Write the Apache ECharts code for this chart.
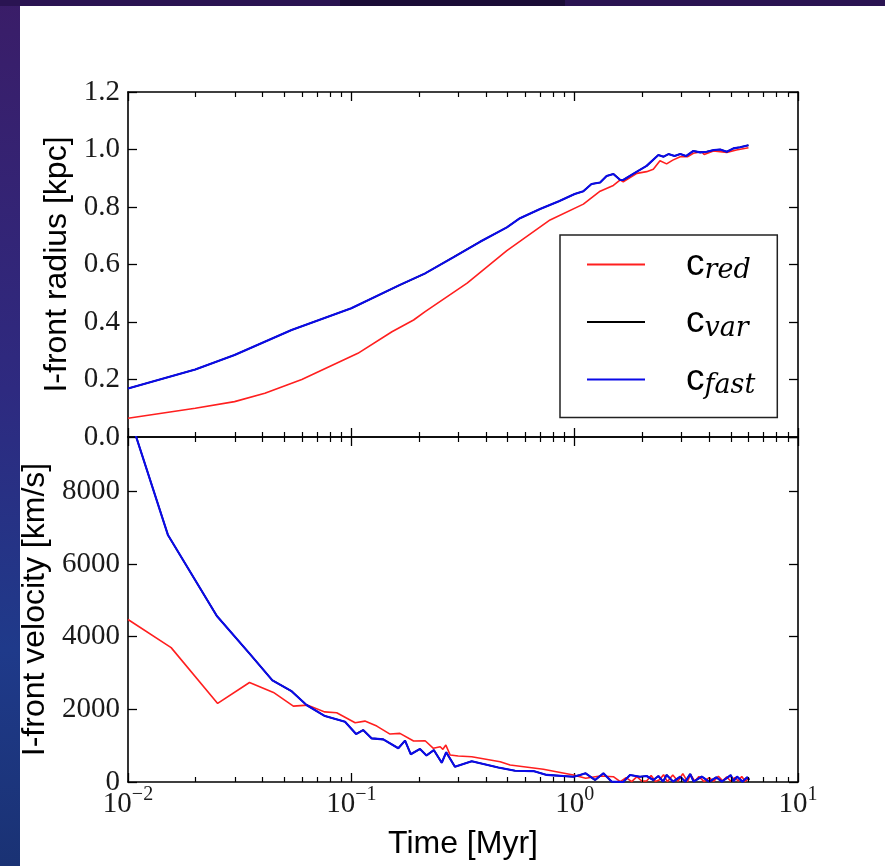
<!DOCTYPE html>
<html><head><meta charset="utf-8">
<script src="https://cdn.jsdelivr.net/npm/echarts@6/dist/echarts.min.js"></script>
<style>
html,body{margin:0;padding:0;width:885px;height:866px;overflow:hidden;}
body{background:linear-gradient(180deg,#3a1d68 0%,#2e2a80 45%,#1f3a8a 75%,#1a3274 100%);}
#topbar{position:absolute;left:0;top:0;width:885px;height:6px;background:#2a1452;}
#tab{position:absolute;left:340px;top:0;width:225px;height:6px;background:#1a0c36;}
#panel{position:absolute;left:20px;top:6px;width:865px;height:860px;background:#fff;}
#chart{position:absolute;left:0;top:0;width:885px;height:866px;}
</style></head>
<body><div id="topbar"></div><div id="tab"></div><div id="panel"></div><div id="chart"></div>
<script>
// ---- data ----
const seriesNames = ['c_red', 'c_var', 'c_fast'];

// I-front radius [kpc] vs time [Myr]
const redRadT = [0.01,0.02,0.03,0.041,0.06,0.107,0.152,0.19,0.214,0.33,0.497,0.776,1.094,1.30,1.49,1.60,1.65,1.90,2.10,2.25,2.41,2.58,2.75,2.97,3.20,3.40,3.70,3.80,4.18,4.80,5.30,6.0];
const redRadV = [0.065,0.10,0.123,0.152,0.2,0.291,0.366,0.407,0.436,0.535,0.648,0.755,0.81,0.855,0.875,0.894,0.888,0.917,0.923,0.931,0.961,0.95,0.963,0.975,0.975,0.987,0.992,0.983,0.995,0.99,0.998,1.006];

const fastRadT = [0.01,0.02,0.03,0.054,0.1,0.165,0.214,0.286,0.377,0.497,0.569,0.70,0.85,1.0,1.094,1.19,1.30,1.39,1.49,1.60,1.65,1.90,2.10,2.37,2.50,2.63,2.80,2.97,3.15,3.40,3.65,3.90,4.20,4.48,4.80,5.14,5.50,6.0];
const fastRadV = [0.169,0.235,0.285,0.372,0.448,0.529,0.569,0.625,0.679,0.729,0.761,0.793,0.82,0.845,0.855,0.88,0.885,0.908,0.915,0.894,0.894,0.923,0.943,0.981,0.975,0.984,0.977,0.984,0.977,0.995,0.99,0.992,0.998,1.0,0.992,1.004,1.008,1.015];

// c_var lies underneath c_fast in the picture (hidden by the blue line)
const varRadT = [0.01,0.02,0.03,0.054,0.1,0.165,0.214,0.286,0.377,0.497,0.569,0.70,0.85,1.0,1.094,1.19,1.30,1.39,1.49,1.60,1.65,1.90,2.10,2.37,2.50,2.63,2.80,2.97,3.15,3.40,3.65,3.90,4.20,4.48,4.80,5.14,5.50,6.0];
const varRadV = [0.169,0.235,0.285,0.372,0.448,0.529,0.569,0.625,0.679,0.729,0.761,0.793,0.82,0.845,0.855,0.88,0.885,0.908,0.915,0.894,0.894,0.923,0.943,0.981,0.975,0.984,0.977,0.984,0.977,0.995,0.99,0.992,0.998,1.0,0.992,1.004,1.008,1.015];

// I-front velocity [km/s] vs time [Myr]
const redVelT = [0.01,0.0156,0.0252,0.035,0.0448,0.055,0.0638,0.076,0.086,0.104,0.115,0.130,0.149,0.165,0.19,0.214,0.233,0.25,0.257,0.265,0.277,0.301,0.346,0.464,0.514,0.724,0.987,1.12,1.30,1.49,1.60,1.70,1.80,1.90,2.0,2.1,2.2,2.3,2.4,2.5,2.6,2.75,2.9,3.05,3.2,3.3,3.45,3.6,3.8,4.0,4.2,4.4,4.6,4.8,5.0,5.2,5.4,5.6,5.8,6.0];
const redVelV = [4474,3700,2164,2741,2466,2090,2117,1930,1906,1631,1677,1540,1320,1339,1127,1136,927,971,900,1017,742,715,696,558,468,349,193,102,165,146,8,120,10,150,20,30,180,15,60,200,10,190,20,230,10,210,20,150,10,120,20,160,30,140,20,120,30,150,20,90];

const fastVelT = [0.01,0.0151,0.025,0.0352,0.0443,0.054,0.063,0.0762,0.0937,0.105,0.113,0.1234,0.139,0.1623,0.174,0.1845,0.203,0.217,0.234,0.254,0.266,0.291,0.346,0.455,0.541,0.653,0.75,0.987,1.057,1.12,1.234,1.345,1.465,1.65,1.77,1.96,2.10,2.25,2.37,2.49,2.58,2.76,2.97,3.13,3.29,3.41,3.71,4.0,4.31,4.56,5.0,5.14,5.33,5.64,5.92,6.05];
const fastVelV = [10200,6800,4570,3520,2800,2500,2120,1815,1660,1320,1430,1200,1175,930,1140,765,910,730,880,530,820,420,570,400,310,300,195,145,195,240,55,240,10,0,195,145,165,55,165,10,195,10,145,10,220,10,150,10,130,10,190,20,150,10,130,60];

const varVelT = fastVelT.slice();
const varVelV = fastVelV.slice();

// axis ticks
const minorTicks = [0.02,0.03,0.04,0.05,0.06,0.07,0.08,0.09,0.2,0.3,0.4,0.5,0.6,0.7,0.8,0.9,2,3,4,5,6,7,8,9];
const radiusTicks = ['0.0','0.2','0.4','0.6','0.8','1.0','1.2'];
const velocityTicks = ['0','2000','4000','6000','8000'];

// ---- chart ----
const pairs = (t, v) => t.map((x, i) => [x, v[i]]);
const colors = { c_red: '#ff1f1f', c_var: '#000000', c_fast: '#0a0ae8' };
const widths = { c_red: 1.6, c_var: 1.6, c_fast: 2.1 };

const frame = { show: true, onZero: false, lineStyle: { color: '#000', width: 1.6 } };
const tick = { show: true, inside: true, length: 9, lineStyle: { color: '#000', width: 1.3 } };
const serif = 'Liberation Serif';

function xAx(grid, pos, labels) {
  return {
    type: 'log', logBase: 10, gridIndex: grid, position: pos, min: 0.01, max: 10,
    axisLine: frame, axisTick: tick, splitLine: { show: false },
    axisLabel: labels ? {
      show: true, margin: 3,
      formatter: v => {
        const e = Math.round(Math.log10(v));
        return '{b|10}{s|' + (e < 0 ? '\u2212' + (-e) : e) + '}';
      },
      rich: {
        b: { fontFamily: serif, fontSize: 29, lineHeight: 34, color: '#1a1a1a', verticalAlign: 'bottom' },
        s: { fontFamily: serif, fontSize: 20, lineHeight: 16, color: '#1a1a1a', verticalAlign: 'top' }
      }
    } : { show: false },
    name: labels ? 'Time [Myr]' : '', nameLocation: 'middle', nameGap: 46,
    nameTextStyle: { fontFamily: 'Liberation Sans', fontSize: 32, color: '#000' }
  };
}
function yAx(grid, pos, cfg) {
  const o = {
    type: 'value', gridIndex: grid, position: pos, min: cfg.min, max: cfg.max, interval: cfg.interval,
    axisLine: frame, axisTick: tick, splitLine: { show: false },
    axisLabel: cfg.labels ? {
      show: true, margin: 8, showMaxLabel: cfg.showMax,
      fontFamily: serif, fontSize: 29, color: '#1a1a1a',
      formatter: cfg.formatter
    } : { show: false }
  };
  if (cfg.name) {
    o.name = cfg.name; o.nameLocation = 'middle'; o.nameGap = cfg.nameGap;
    o.nameTextStyle = { fontFamily: 'Liberation Sans', fontSize: 32, color: '#000' };
  }
  return o;
}

const radCfg = { min: 0, max: 1.2, interval: 0.2, labels: true, showMax: true,
  formatter: v => radiusTicks[Math.round(v / 0.2)] || '', name: 'I-front radius [kpc]', nameGap: 55 };
const velCfg = { min: 0, max: 9500, interval: 2000, labels: true, showMax: false,
  formatter: v => (v % 2000 === 0 && velocityTicks[v / 2000] !== undefined) ? velocityTicks[v / 2000] : '',
  name: 'I-front velocity [km/s]', nameGap: 76 };

function lineSeries(name, grid, data) {
  return {
    type: 'line', name, xAxisIndex: grid * 2, yAxisIndex: grid * 2, data,
    symbol: 'none', showSymbol: false, clip: true, animation: false, z: 3,
    lineStyle: { color: colors[name], width: widths[name] }, itemStyle: { color: colors[name] }
  };
}
function minorSeries(grid) {
  return {
    type: 'custom', xAxisIndex: grid * 2, yAxisIndex: grid * 2, silent: true, animation: false,
    data: minorTicks.map(v => [v, 0]), z: 4,
    renderItem: (params, api) => {
      const x = Math.round(api.coord([api.value(0), 0])[0]) + 0.5;
      const cs = params.coordSys;
      const st = { stroke: '#000', lineWidth: 1.2 };
      return { type: 'group', children: [
        { type: 'line', shape: { x1: x, y1: cs.y + cs.height, x2: x, y2: cs.y + cs.height - 5 }, style: st },
        { type: 'line', shape: { x1: x, y1: cs.y, x2: x, y2: cs.y + 5 }, style: st }
      ] };
    }
  };
}

const chart = echarts.init(document.getElementById('chart'), null, { renderer: 'canvas' });
chart.setOption({
  backgroundColor: 'transparent',
  animation: false,
  grid: [
    { left: 128, top: 92, width: 670, height: 345 },
    { left: 128, top: 437, width: 670, height: 345 }
  ],
  xAxis: [xAx(0, 'bottom', false), xAx(0, 'top', false), xAx(1, 'bottom', true), xAx(1, 'top', false)],
  yAxis: [yAx(0, 'left', radCfg), yAx(0, 'right', { min: 0, max: 1.2, interval: 0.2 }),
          yAx(1, 'left', velCfg), yAx(1, 'right', { min: 0, max: 9500, interval: 2000 })],
  legend: {
    data: seriesNames, orient: 'vertical', left: 560, top: 235,
    padding: [11, 22, 18, 27], itemWidth: 58, itemHeight: 2, itemGap: 19, icon: 'rect',
    borderColor: '#222', borderWidth: 1.5, backgroundColor: '#fff', selectedMode: false,
    formatter: n => '{c|c}{s|' + n.split('_')[1] + '}',
    textStyle: { rich: {
      c: { fontFamily: 'Liberation Sans', fontSize: 37, lineHeight: 40, color: '#000', padding: [0, 0, 0, 36] },
      s: { fontFamily: 'DejaVu Serif', fontStyle: 'italic', fontSize: 27, lineHeight: 26, verticalAlign: 'bottom', color: '#000' }
    } }
  },
  series: [
    lineSeries('c_red', 0, pairs(redRadT, redRadV)),
    lineSeries('c_var', 0, pairs(varRadT, varRadV)),
    lineSeries('c_fast', 0, pairs(fastRadT, fastRadV)),
    lineSeries('c_red', 1, pairs(redVelT, redVelV)),
    lineSeries('c_var', 1, pairs(varVelT, varVelV)),
    lineSeries('c_fast', 1, pairs(fastVelT, fastVelV)),
    minorSeries(0), minorSeries(1)
  ]
});
</script>
</body></html>
